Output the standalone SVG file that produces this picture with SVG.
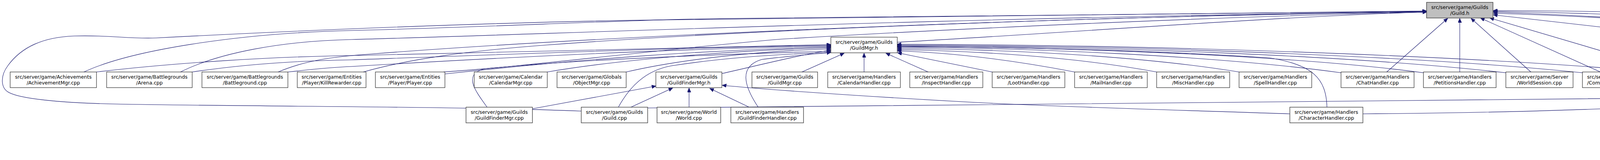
<svg xmlns="http://www.w3.org/2000/svg" width="5247" height="409" viewBox="0 0 5247 409">
<style>
.nd rect{fill:#fff;stroke:#000;stroke-width:1}
.nd2 rect{fill:#fff;stroke:#404040;stroke-width:1.4}
.rt rect{fill:#bfbfbf;stroke:#404040;stroke-width:1.4}
text{font-family:"DejaVu Sans","Liberation Sans",sans-serif;font-size:12.6px;fill:#000;text-anchor:middle}
text.l{text-anchor:start}
#edges path{fill:none;stroke:#191970;stroke-width:1.1;marker-end:url(#ah)}
</style>
<defs>
<marker id="ah" markerWidth="12" markerHeight="10" refX="10.5" refY="4.5" orient="auto" markerUnits="userSpaceOnUse">
<path d="M0,0 L10.5,4.5 L0,9 z" fill="#191970" stroke="#191970" stroke-width="1"/>
</marker>
</defs>
<rect width="5247" height="409" fill="#fff"/>
<g id="edges">
<path d="M1488,284 C1200,272 600,272 300,266 C150,263 50,252 22,236 C2,225 0,195 20,168 C55,120 110,95 190,92 C280,89 330,100 400,97 C650,84 1100,62 1600,52 C2400,37 3200,31 3652,28"/>
<path d="M215,184 C330,130 600,85 900,78 C1300,68 1600,50 1880,47 C2600,38 3300,31 3652,29"/>
<path d="M462,184 C560,135 720,105 900,101 C1400,88 2400,45 3652,30"/>
<path d="M712,184 C780,155 850,145 950,138 C1500,95 2600,45 3652,30"/>
<path d="M930,184 C1050,150 1200,130 1400,115 C2000,70 3000,38 3652,30"/>
<path d="M1135,184 C1350,170 1700,125 2000,100 C2500,70 3200,40 3652,31"/>
<path d="M2297,108 C2700,86 3300,40 3652,31"/>
<path d="M3550,184 L3706,47"/>
<path d="M3737,184 L3737,47"/>
<path d="M3919,184 L3766,47"/>
<path d="M4097,184 L3790,46"/>
<path d="M4283,184 L3814,46"/>
<path d="M4397,103 L3823,38"/>
<path d="M4712,95 C4550,70 4100,40 3823,31"/>
<path d="M4903,95 C4700,60 4200,35 3823,29"/>
<path d="M5096,95 C4800,50 4300,28 3823,27"/>
<path d="M3489,291 C3900,288 4400,275 4690,232 C4760,200 4745,150 4650,112 C4500,65 4100,42 3823,34"/>
<path d="M247,184 C450,160 700,145 900,142 C1400,128 1800,118 2127,114"/>
<path d="M492,184 C620,165 760,155 900,153 C1400,135 1800,120 2127,116"/>
<path d="M737,184 C800,177 850,172 900,170 C1400,140 1800,123 2127,118"/>
<path d="M1139,189 C1500,150 1800,128 2127,120"/>
<path d="M1401,184 C1600,150 1900,128 2127,122"/>
<path d="M1603,184 C1750,150 1950,130 2127,125"/>
<path d="M1848,188 C1950,165 2050,140 2127,128"/>
<path d="M1247,274 C1215,230 1185,190 1240,176 C1500,150 1900,137 2127,131"/>
<path d="M1583,274 C1610,225 1650,180 1720,168 C1850,148 2000,138 2127,134"/>
<path d="M1941,274 C1905,220 1890,170 1950,152 C2000,145 2070,140 2127,134"/>
<path d="M2053,184 L2161,136"/>
<path d="M2212,184 L2212,136"/>
<path d="M2376,184 L2268,136"/>
<path d="M2540,184 L2298,135"/>
<path d="M2751,184 C2600,155 2450,135 2297,130"/>
<path d="M2961,184 C2750,145 2500,130 2297,127"/>
<path d="M3172,184 C2900,140 2550,126 2297,124"/>
<path d="M3433,186 C3100,140 2600,122 2297,121"/>
<path d="M3644,186 C3300,140 2700,120 2297,119"/>
<path d="M3855,186 C3450,140 2800,118 2297,117"/>
<path d="M4051,186 C3600,140 2850,116 2297,115"/>
<path d="M4258,186 C3750,140 2900,114 2297,113"/>
<path d="M3397,274 C3395,200 3360,165 3250,148 C2900,125 2500,120 2297,118"/>
<path d="M4381,184 L4446,137"/>
<path d="M1657,276 C2300,262 3500,264 4300,250 C4460,245 4484,200 4484,137"/>
<path d="M4584,184 L4516,137"/>
<path d="M4781,184 L4570,134"/>
<path d="M4784,274 L4838,226"/>
<path d="M4951,274 L4894,226"/>
<path d="M4974,363 L4974,315"/>
<path d="M1363,278 L1679,220"/>
<path d="M1615,274 L1722,225"/>
<path d="M1764,274 L1764,225"/>
<path d="M1918,274 L1817,226"/>
<path d="M3302,291 C3000,281 2700,273 2500,262 C2200,246 1950,228 1849,218"/>
</g>
<g id="n_guild_h" class="rt"><rect x="3652" y="6" width="170" height="40"/><text x="3737" y="23">src/server/game/Guilds</text><text x="3737" y="37.5">/Guild.h</text></g>
<g id="n_guildmgr_h" class="nd"><rect x="2127" y="95" width="170" height="40"/><text x="2212" y="112">src/server/game/Guilds</text><text x="2212" y="126.5">/GuildMgr.h</text></g>
<g id="n_guildpackets_h" class="nd"><rect x="4397" y="95" width="172" height="40"/><text x="4483" y="112">src/server/game/Server</text><text x="4483" y="126.5">/Packets/GuildPackets.h</text></g>
<g id="n_spell_cpp" class="nd"><rect x="4712" y="95" width="168" height="40"/><text x="4796" y="112">src/server/game/Spells</text><text x="4796" y="126.5">/Spell.cpp</text></g>
<g id="n_spelleffects_cpp" class="nd"><rect x="4903" y="95" width="169" height="40"/><text x="4987.5" y="112">src/server/game/Spells</text><text x="4987.5" y="126.5">/SpellEffects.cpp</text></g>
<g id="n_chat_log_cpp" class="nd"><rect x="5096" y="95" width="146" height="40"/><text class="l" x="5108" y="112">src/server/scripts</text><text class="l" x="5108" y="126.5">/World/chat_log.cpp</text></g>
<g id="n_achievementmgr_cpp" class="nd"><rect x="26" y="184" width="221" height="40"/><text x="136.5" y="201">src/server/game/Achievements</text><text x="136.5" y="215.5">/AchievementMgr.cpp</text></g>
<g id="n_arena_cpp" class="nd"><rect x="273" y="184" width="219" height="40"/><text x="382.5" y="201">src/server/game/Battlegrounds</text><text x="382.5" y="215.5">/Arena.cpp</text></g>
<g id="n_battleground_cpp" class="nd"><rect x="517" y="184" width="220" height="40"/><text x="627" y="201">src/server/game/Battlegrounds</text><text x="627" y="215.5">/Battleground.cpp</text></g>
<g id="n_killrewarder_cpp" class="nd"><rect x="761" y="184" width="176" height="40"/><text x="849" y="201">src/server/game/Entities</text><text x="849" y="215.5">/Player/KillRewarder.cpp</text></g>
<g id="n_player_cpp" class="nd"><rect x="961" y="184" width="178" height="40"/><text x="1050" y="201">src/server/game/Entities</text><text x="1050" y="215.5">/Player/Player.cpp</text></g>
<g id="n_calendarmgr_cpp" class="nd"><rect x="1214" y="184" width="187" height="40"/><text x="1307.5" y="201">src/server/game/Calendar</text><text x="1307.5" y="215.5">/CalendarMgr.cpp</text></g>
<g id="n_objectmgr_cpp" class="nd"><rect x="1426" y="184" width="177" height="40"/><text x="1514.5" y="201">src/server/game/Globals</text><text x="1514.5" y="215.5">/ObjectMgr.cpp</text></g>
<g id="n_guildfindermgr_h" class="nd"><rect x="1679" y="184" width="169" height="40"/><text x="1763.5" y="201">src/server/game/Guilds</text><text x="1763.5" y="215.5">/GuildFinderMgr.h</text></g>
<g id="n_guildmgr_cpp" class="nd"><rect x="1925" y="184" width="168" height="40"/><text x="2009" y="201">src/server/game/Guilds</text><text x="2009" y="215.5">/GuildMgr.cpp</text></g>
<g id="n_calendarhandler_cpp" class="nd"><rect x="2119" y="184" width="186" height="40"/><text x="2212" y="201">src/server/game/Handlers</text><text x="2212" y="215.5">/CalendarHandler.cpp</text></g>
<g id="n_inspecthandler_cpp" class="nd"><rect x="2329" y="184" width="187" height="40"/><text x="2422.5" y="201">src/server/game/Handlers</text><text x="2422.5" y="215.5">/InspectHandler.cpp</text></g>
<g id="n_loothandler_cpp" class="nd"><rect x="2540" y="184" width="186" height="40"/><text x="2633" y="201">src/server/game/Handlers</text><text x="2633" y="215.5">/LootHandler.cpp</text></g>
<g id="n_mailhandler_cpp" class="nd"><rect x="2751" y="184" width="186" height="40"/><text x="2844" y="201">src/server/game/Handlers</text><text x="2844" y="215.5">/MailHandler.cpp</text></g>
<g id="n_mischandler_cpp" class="nd"><rect x="2961" y="184" width="187" height="40"/><text x="3054.5" y="201">src/server/game/Handlers</text><text x="3054.5" y="215.5">/MiscHandler.cpp</text></g>
<g id="n_spellhandler_cpp" class="nd"><rect x="3172" y="184" width="186" height="40"/><text x="3265" y="201">src/server/game/Handlers</text><text x="3265" y="215.5">/SpellHandler.cpp</text></g>
<g id="n_chathandler_cpp" class="nd"><rect x="3433" y="184" width="187" height="40"/><text x="3526.5" y="201">src/server/game/Handlers</text><text x="3526.5" y="215.5">/ChatHandler.cpp</text></g>
<g id="n_petitionshandler_cpp" class="nd"><rect x="3644" y="184" width="186" height="40"/><text x="3737" y="201">src/server/game/Handlers</text><text x="3737" y="215.5">/PetitionsHandler.cpp</text></g>
<g id="n_worldsession_cpp" class="nd"><rect x="3855" y="184" width="172" height="40"/><text x="3941" y="201">src/server/game/Server</text><text x="3941" y="215.5">/WorldSession.cpp</text></g>
<g id="n_cs_guild_cpp" class="nd"><rect x="4051" y="184" width="183" height="40"/><text class="l" x="4063" y="201">src/server/scripts</text><text class="l" x="4063" y="215.5">/Commands/cs_guild.cpp</text></g>
<g id="n_guildhandler_cpp" class="nd"><rect x="4258" y="184" width="187" height="40"/><text x="4351.5" y="201">src/server/game/Handlers</text><text x="4351.5" y="215.5">/GuildHandler.cpp</text></g>
<g id="n_guildpackets_cpp" class="nd"><rect x="4519" y="184" width="187" height="40"/><text class="l" x="4531" y="201">src/server/game/Server</text><text class="l" x="4531" y="215.5">/Packets/GuildPackets.cpp</text></g>
<g id="n_allpackets_h" class="nd"><rect x="4781" y="184" width="173" height="40"/><text x="4867.5" y="201">src/server/game/Server</text><text x="4867.5" y="215.5">/Packets/AllPackets.h</text></g>
<g id="n_guildfindermgr_cpp" class="nd2"><rect x="1193" y="274" width="170" height="40"/><text x="1278" y="291">src/server/game/Guilds</text><text x="1278" y="305.5">/GuildFinderMgr.cpp</text></g>
<g id="n_guild_cpp" class="nd2"><rect x="1488" y="274" width="170" height="40"/><text x="1573" y="291">src/server/game/Guilds</text><text x="1573" y="305.5">/Guild.cpp</text></g>
<g id="n_world_cpp" class="nd2"><rect x="1682" y="274" width="163" height="40"/><text x="1763.5" y="291">src/server/game/World</text><text x="1763.5" y="305.5">/World.cpp</text></g>
<g id="n_guildfinderhandler_cpp" class="nd2"><rect x="1871" y="274" width="186" height="40"/><text x="1964" y="291">src/server/game/Handlers</text><text x="1964" y="305.5">/GuildFinderHandler.cpp</text></g>
<g id="n_characterhandler_cpp" class="nd2"><rect x="3302" y="274" width="187" height="40"/><text x="3395.5" y="291">src/server/game/Handlers</text><text x="3395.5" y="305.5">/CharacterHandler.cpp</text></g>
<g id="n_opcodes_cpp" class="nd2"><rect x="4674" y="274" width="172" height="40"/><text x="4760" y="291">src/server/game/Server</text><text x="4760" y="305.5">/Protocol/Opcodes.cpp</text></g>
<g id="n_gamepch_h" class="nd2"><rect x="4870" y="274" width="209" height="40"/><text x="4974.5" y="291">src/server/game/Precompiled</text><text x="4974.5" y="305.5">Headers/gamePCH.h</text></g>
<g id="n_gamepch_cpp" class="nd2"><rect x="4870" y="363" width="209" height="40"/><text x="4974.5" y="380">src/server/game/Precompiled</text><text x="4974.5" y="394.5">Headers/gamePCH.cpp</text></g>
</svg>
